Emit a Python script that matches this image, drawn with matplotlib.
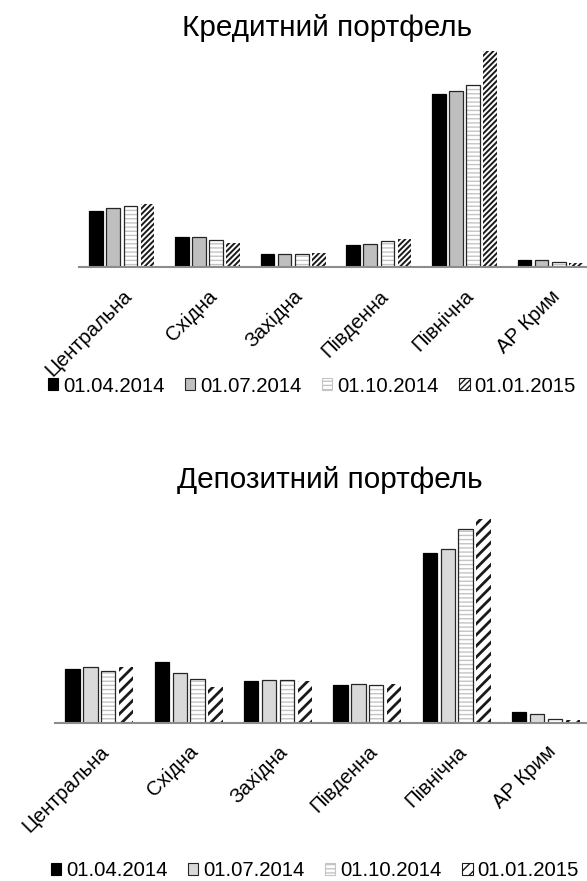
import matplotlib
matplotlib.use("Agg")
import matplotlib.pyplot as plt
from matplotlib.patches import Patch
import numpy as np

plt.rcParams["font.family"] = ["Liberation Sans", "DejaVu Sans"]

regions = ["Центральна", "Східна", "Західна", "Південна", "Північна", "АР Крим"]
dates = ["01.04.2014", "01.07.2014", "01.10.2014", "01.01.2015"]

# credit portfolio by region, one list per reporting date
credit_0414 = [56.4, 30.4, 13.3, 22.3, 173.0, 6.7]
credit_0714 = [59.0, 30.4, 13.3, 23.3, 176.3, 6.7]
credit_1014 = [61.0, 27.3, 13.0, 25.7, 182.3, 4.7]
credit_0115 = [62.7, 23.7, 13.7, 27.7, 216.0, 3.7]

# deposit portfolio by region
deposit_0414 = [53.7, 60.7, 41.3, 37.3, 169.3, 10.3]
deposit_0714 = [55.3, 49.3, 43.0, 38.7, 174.0, 8.3]
deposit_1014 = [52.0, 43.3, 42.3, 37.7, 193.3, 3.3]
deposit_0115 = [55.7, 35.7, 41.7, 39.0, 210.0, 2.5]

W, H = 587, 881
fig = plt.figure(figsize=(W / 100, H / 100), dpi=100)


def px_axes(left, top, right, bottom):
    return fig.add_axes([left / W, 1 - bottom / H, (right - left) / W, (bottom - top) / H])


def hatched(patches, lw):
    for p in patches:
        if hasattr(p, "set_hatch_linewidth"):
            p.set_hatch_linewidth(lw)


def draw_panel(ax, series, gray, diag_hatch, diag_lw, ymax):
    x = np.arange(len(regions))
    width = 0.16
    offsets = np.array([-1.5, -0.5, 0.5, 1.5]) * 0.2
    styles = [
        dict(face="black", hatch=None, hcol=None, hlw=1.0, edge="black"),
        dict(face=gray, hatch=None, hcol=None, hlw=1.0, edge="#262626"),
        dict(face="white", hatch="----", hcol="#C4C4C4", hlw=1.0, edge="#262626"),
        dict(face="white", hatch=diag_hatch, hcol="#1A1A1A", hlw=diag_lw, edge=None),
    ]
    handles = []
    for vals, off, st, lab in zip(series, offsets, styles, dates):
        with plt.rc_context({"hatch.linewidth": st["hlw"]}):
            if st["hatch"]:
                bars = ax.bar(x + off, vals, width, color=st["face"], edgecolor=st["hcol"],
                              hatch=st["hatch"], linewidth=0, zorder=2)
                hatched(bars, st["hlw"])
            else:
                ax.bar(x + off, vals, width, color=st["face"], linewidth=0, zorder=2)
            if st["edge"]:
                ax.bar(x + off, vals, width, fill=False, edgecolor=st["edge"],
                       linewidth=0.9, zorder=3)
            h = Patch(facecolor=st["face"],
                      edgecolor=st["hcol"] if st["hatch"] else st["edge"],
                      hatch=st["hatch"], linewidth=0.8, label=lab)
            hatched([h], min(st["hlw"], 1.2))
        handles.append(h)

    ax.set_xlim(-0.5, len(regions) - 0.5)
    ax.set_ylim(0, ymax)
    for side in ["top", "right", "left"]:
        ax.spines[side].set_visible(False)
    ax.spines["bottom"].set_color("#8C8C8C")
    ax.spines["bottom"].set_linewidth(1.5)
    ax.spines["bottom"].set_zorder(4)
    ax.set_yticks([])
    ax.set_xticks(x)
    ax.set_xticklabels(regions, rotation=45, ha="right", rotation_mode="anchor",
                       fontsize=14.5)
    ax.tick_params(axis="x", length=0, pad=14)
    return handles


ax1 = px_axes(79, 51, 593, 267)
h1 = draw_panel(ax1, [credit_0414, credit_0714, credit_1014, credit_0115],
                "#BFBFBF", "//////", 1.4, 216.0)

ax2 = px_axes(54.7, 519, 590.7, 722.7)
h2 = draw_panel(ax2, [deposit_0414, deposit_0714, deposit_1014, deposit_0115],
                "#D9D9D9", "///", 2.0, 203.7)

fig.text(327 / W, 1 - 36 / H, "Кредитний портфель", ha="center", va="baseline",
         fontsize=21.4)
fig.text(330 / W, 1 - 488 / H, "Депозитний портфель", ha="center", va="baseline",
         fontsize=21.4)

legend_kw = dict(ncol=4, loc="center", frameon=False, fontsize=14.7,
                 handlelength=0.5, handleheight=0.5, handletextpad=0.25,
                 columnspacing=1.0, borderaxespad=0, borderpad=0)
fig.legend(handles=h1, bbox_to_anchor=(312 / W, 1 - 386 / H), **legend_kw)
fig.legend(handles=h2, bbox_to_anchor=(315 / W, 1 - 871 / H), **legend_kw)

fig.savefig("out.png", dpi=100)
